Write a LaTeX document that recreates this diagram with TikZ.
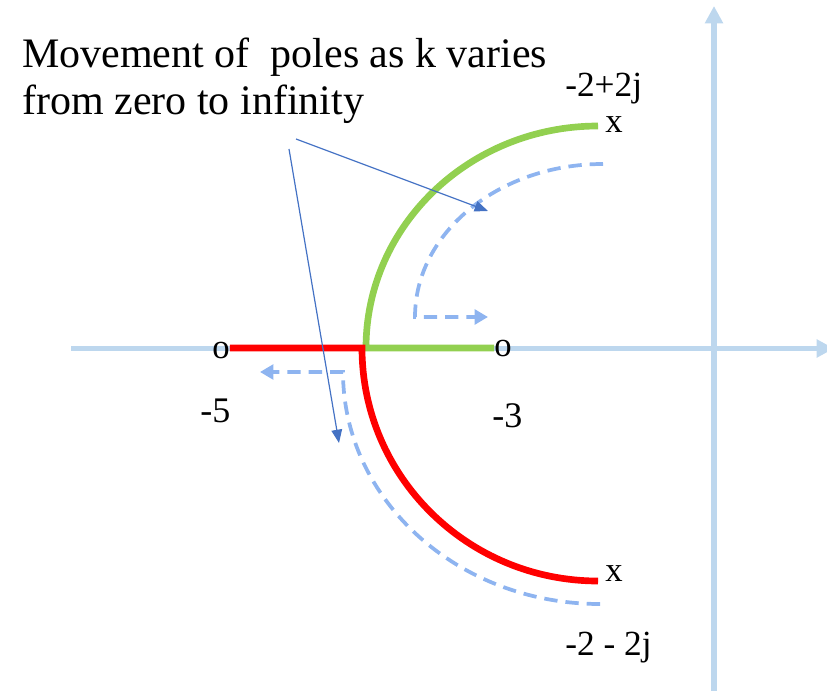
\documentclass[tikz,border=0pt]{standalone}
\usepackage{fontspec}
\setmainfont{Liberation Serif}
\usetikzlibrary{arrows.meta}
\definecolor{axisblue}{RGB}{189,215,238}
\definecolor{locgreen}{RGB}{146,208,80}
\definecolor{locred}{RGB}{255,0,0}
\definecolor{dashcol}{RGB}{142,180,240}
\definecolor{pointer}{RGB}{68,114,196}
\begin{document}
\begin{tikzpicture}[x=0.75pt,y=0.75pt,
  axisline/.style={draw=axisblue,line width=4pt,-{Triangle[length=13pt,width=13pt]}},
  greenline/.style={draw=locgreen,line width=5pt},
  redline/.style={draw=locred,line width=5pt,line join=miter},
  dashpath/.style={draw=dashcol,line width=2.8pt,dash pattern=on 10pt off 6pt,-{Triangle[length=10pt,width=11pt]}},
  pointerline/.style={draw=pointer,line width=0.9pt,-{Triangle[length=10pt,width=8pt]}},
  marker/.style={inner sep=0pt,font=\fontsize{26}{30}\selectfont},
  numlabel/.style={inner sep=0pt,anchor=base west,font=\fontsize{27}{32}\selectfont},
  cpxlabel/.style={inner sep=0pt,anchor=base west,font=\fontsize{26.5}{30}\selectfont},
  titletext/.style={inner sep=0pt,anchor=base west,font=\fontsize{31.5}{36}\selectfont}]
\useasboundingbox (0,0) rectangle (827,690);
\clip (0,0) rectangle (827,690);
% axes
\coordinate (hx0) at (71,341.5);
\coordinate (hx1) at (834,341.5);
\coordinate (vy0) at (714,-5);
\coordinate (vy1) at (714,684);
\draw[axisline] (hx0) -- (hx1);
\draw[axisline] (vy0) -- (vy1);
% markers
\node[marker] (p5) at (221,340) {o};
\node[marker] (p3) at (503,341) {o};
\node[marker] (xu) at (614,565) {x};
\node[marker] (xl) at (614,116) {x};
% locus
\coordinate (gA) at (366,342);
\coordinate (rA) at (362,342);
\draw[greenline] (p3.west |- gA) -- (gA) arc[start angle=180,end angle=90,x radius=174pt,y radius=166.5pt];
\draw[redline] (p5.east |- rA) -- (rA) arc[start angle=180,end angle=270,x radius=177pt,y radius=174.75pt];
% dashed direction paths
\coordinate (uS) at (603,526);
\coordinate (uE) at (488,373);
\draw[dashpath] (uS) arc[start angle=90,end angle=180,x radius=141pt,y radius=114.75pt] -- (uE);
\coordinate (lS) at (600,86);
\coordinate (lE) at (260,318);
\draw[dashpath] (lS) arc[start angle=270,end angle=180,x radius=192.75pt,y radius=174pt] -- (lE);
% labels
\node[numlabel] (l5) at (200,268) {-5};
\node[numlabel] (l3) at (492,263) {-3};
\node[cpxlabel] (lu) at (565,593) {-2+2j};
\node[cpxlabel] (ll) at (565,35) {-2 - 2j};
% title
\node[titletext] (t1) at (22,622) {Movement of\ \ poles as k varies};
\node[titletext] (t2) at (22,575) {from zero to infinity};
% pointers
\coordinate (s1) at (296,551);
\coordinate (e1) at (488,479);
\coordinate (s2) at (289,541);
\coordinate (e2) at (339,247);
\draw[pointerline] (s1) -- (e1);
\draw[pointerline] (s2) -- (e2);
\end{tikzpicture}
\end{document}
